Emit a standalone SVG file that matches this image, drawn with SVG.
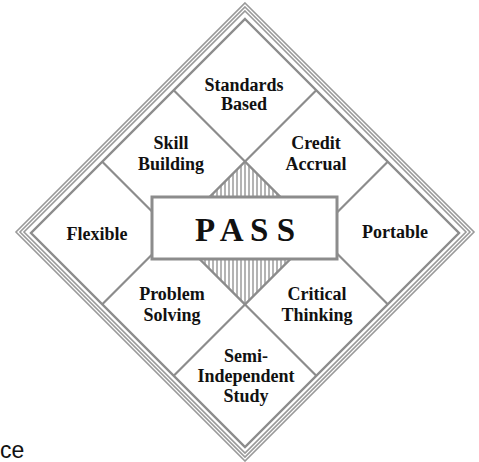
<svg xmlns="http://www.w3.org/2000/svg" width="479" height="462" viewBox="0 0 479 462">
<style>
.frame{fill:none;stroke:#9a9a9a;stroke-width:1.6}
.inner{fill:none;stroke:#8c8c8c;stroke-width:2.4}
.grid line{stroke:#8c8c8c;stroke-width:2.2}
.lbl{font-family:"Liberation Serif","Times New Roman",serif;font-weight:bold;font-size:18px;fill:#111;text-anchor:middle}
.title{font-family:"Liberation Serif","Times New Roman",serif;font-weight:bold;font-size:33px;fill:#111;text-anchor:middle}
</style>
<defs>
<pattern id="hatch" patternUnits="userSpaceOnUse" width="4" height="10">
<rect width="4" height="10" fill="#fff"/>
<line x1="1" y1="0" x2="1" y2="10" stroke="#8c8c8c" stroke-width="1.3"/>
</pattern>
</defs>
<rect width="479" height="462" fill="#fff"/>
<g id="frame">
<polygon class="frame" points="245,3 474,232 245,461 16,232"/>
<polygon class="frame" points="245,7 470,232 245,457 20,232"/>
<polygon class="frame" points="245,11 466,232 245,453 24,232"/>
<polygon class="inner" points="245,19 459,233 245,447 31,233"/>
</g>
<g id="connectors" class="grid">
<line x1="173.7" y1="90.3" x2="387.7" y2="304.3"/>
<line x1="102.3" y1="161.7" x2="316.3" y2="375.7"/>
<line x1="173.7" y1="375.7" x2="387.7" y2="161.7"/>
<line x1="102.3" y1="304.3" x2="316.3" y2="90.3"/>
</g>
<g id="center">
<polygon points="245,161.7 316.3,233 245,304.3 173.7,233" fill="url(#hatch)" stroke="#8c8c8c" stroke-width="2"/>
<rect x="152" y="197" width="185" height="62" fill="#fff" stroke="#8c8c8c" stroke-width="3"/>
<text class="title" x="245" y="241">P A S S</text>
</g>
<g id="standards-based"><text class="lbl" x="244" y="91">Standards</text><text class="lbl" x="244" y="110">Based</text></g>
<g id="skill-building"><text class="lbl" x="171" y="149">Skill</text><text class="lbl" x="171" y="170">Building</text></g>
<g id="credit-accrual"><text class="lbl" x="316" y="149">Credit</text><text class="lbl" x="316" y="170">Accrual</text></g>
<g id="flexible"><text class="lbl" x="97" y="240">Flexible</text></g>
<g id="portable"><text class="lbl" x="395" y="238">Portable</text></g>
<g id="problem-solving"><text class="lbl" x="172" y="300">Problem</text><text class="lbl" x="172" y="321">Solving</text></g>
<g id="critical-thinking"><text class="lbl" x="317" y="300">Critical</text><text class="lbl" x="317" y="321">Thinking</text></g>
<g id="semi-independent-study"><text class="lbl" x="246" y="362">Semi-</text><text class="lbl" x="246" y="382">Independent</text><text class="lbl" x="246" y="402">Study</text></g>
<text x="0" y="458" font-family="'Liberation Sans',Arial,sans-serif" font-size="23" fill="#111">ce</text>
</svg>
